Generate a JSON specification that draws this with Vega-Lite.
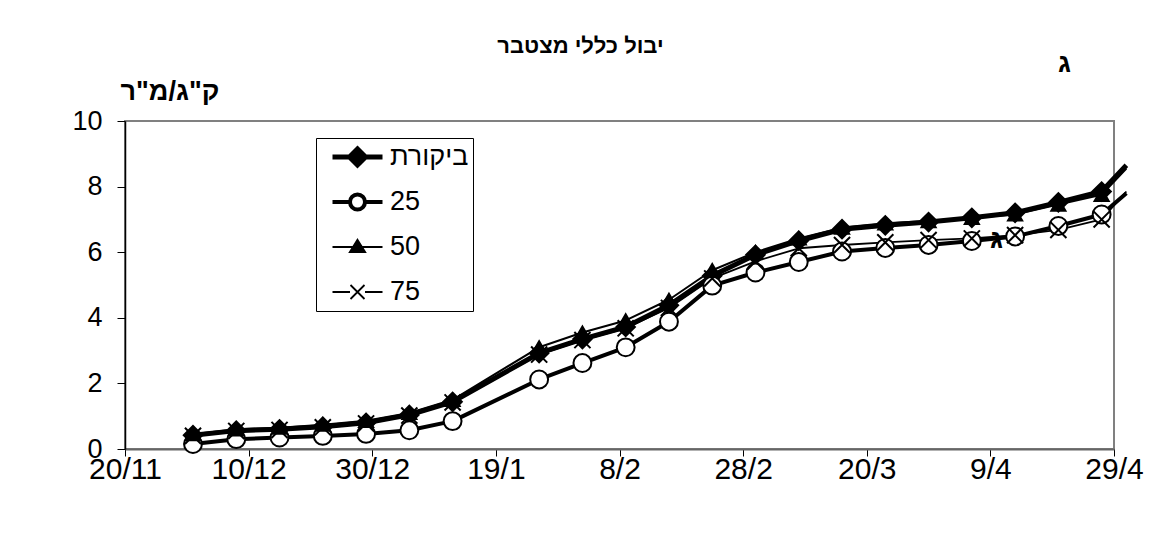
{
  "$schema": "https://vega.github.io/schema/vega-lite/v6.json",
  "width": 989,
  "height": 328,
  "autosize": {"type": "none"},
  "padding": {"left": 125, "top": 121, "right": 47, "bottom": 91},
  "background": "white",
  "title": {"text": "יבול כללי מצטבר", "font": "Liberation Sans", "fontSize": 22, "fontWeight": "bold", "color": "#000", "anchor": "middle", "dx": -39, "dy": 12},
  "config": {
    "font": "Liberation Sans",
    "view": {"stroke": "#808080", "strokeWidth": 2},
    "axis": {"grid": false, "labelFont": "Liberation Sans", "labelFontSize": 27, "labelColor": "#000", "tickColor": "#000", "labelFlush": false, "labelOverlap": false},
    "axisY": {"titleAngle": 0, "titleAlign": "left", "titleBaseline": "alphabetic", "titleX": -5, "titleY": -22, "titleFont": "Liberation Sans", "titleFontSize": 27, "titleFontWeight": "bold", "titleColor": "#000", "tickSize": 8, "labelPadding": 15, "domainColor": "#000", "domainWidth": 1.5},
    "axisX": {"tickSize": 7, "labelPadding": -2, "labelFontSize": 30, "domainColor": "#666", "domainWidth": 2}
  },
  "datasets": {
    "yield": [
      {"date": "2004-12-01T00:00", "series": "ביקורת", "value": 0.42}, {"date": "2004-12-01T00:00", "series": "25", "value": 0.15}, {"date": "2004-12-01T00:00", "series": "50", "value": 0.45}, {"date": "2004-12-01T00:00", "series": "75", "value": 0.40},
      {"date": "2004-12-08T00:00", "series": "ביקורת", "value": 0.56}, {"date": "2004-12-08T00:00", "series": "25", "value": 0.30}, {"date": "2004-12-08T00:00", "series": "50", "value": 0.60}, {"date": "2004-12-08T00:00", "series": "75", "value": 0.55},
      {"date": "2004-12-15T00:00", "series": "ביקורת", "value": 0.60}, {"date": "2004-12-15T00:00", "series": "25", "value": 0.35}, {"date": "2004-12-15T00:00", "series": "50", "value": 0.65}, {"date": "2004-12-15T00:00", "series": "75", "value": 0.58},
      {"date": "2004-12-22T00:00", "series": "ביקורת", "value": 0.68}, {"date": "2004-12-22T00:00", "series": "25", "value": 0.40}, {"date": "2004-12-22T00:00", "series": "50", "value": 0.74}, {"date": "2004-12-22T00:00", "series": "75", "value": 0.66},
      {"date": "2004-12-29T00:00", "series": "ביקורת", "value": 0.80}, {"date": "2004-12-29T00:00", "series": "25", "value": 0.46}, {"date": "2004-12-29T00:00", "series": "50", "value": 0.86}, {"date": "2004-12-29T00:00", "series": "75", "value": 0.78},
      {"date": "2005-01-05T00:00", "series": "ביקורת", "value": 1.04}, {"date": "2005-01-05T00:00", "series": "25", "value": 0.57}, {"date": "2005-01-05T00:00", "series": "50", "value": 1.10}, {"date": "2005-01-05T00:00", "series": "75", "value": 1.02},
      {"date": "2005-01-12T00:00", "series": "ביקורת", "value": 1.44}, {"date": "2005-01-12T00:00", "series": "25", "value": 0.85}, {"date": "2005-01-12T00:00", "series": "50", "value": 1.50}, {"date": "2005-01-12T00:00", "series": "75", "value": 1.42},
      {"date": "2005-01-26T00:00", "series": "ביקורת", "value": 2.92}, {"date": "2005-01-26T00:00", "series": "25", "value": 2.12}, {"date": "2005-01-26T00:00", "series": "50", "value": 3.10}, {"date": "2005-01-26T00:00", "series": "75", "value": 2.88},
      {"date": "2005-02-02T00:00", "series": "ביקורת", "value": 3.35}, {"date": "2005-02-02T00:00", "series": "25", "value": 2.62}, {"date": "2005-02-02T00:00", "series": "50", "value": 3.55}, {"date": "2005-02-02T00:00", "series": "75", "value": 3.32},
      {"date": "2005-02-09T00:00", "series": "ביקורת", "value": 3.72}, {"date": "2005-02-09T00:00", "series": "25", "value": 3.10}, {"date": "2005-02-09T00:00", "series": "50", "value": 3.92}, {"date": "2005-02-09T00:00", "series": "75", "value": 3.68},
      {"date": "2005-02-16T00:00", "series": "ביקורת", "value": 4.38}, {"date": "2005-02-16T00:00", "series": "25", "value": 3.88}, {"date": "2005-02-16T00:00", "series": "50", "value": 4.55}, {"date": "2005-02-16T00:00", "series": "75", "value": 4.30},
      {"date": "2005-02-23T00:00", "series": "ביקורת", "value": 5.28}, {"date": "2005-02-23T00:00", "series": "25", "value": 4.98}, {"date": "2005-02-23T00:00", "series": "50", "value": 5.45}, {"date": "2005-02-23T00:00", "series": "75", "value": 5.20},
      {"date": "2005-03-02T00:00", "series": "ביקורת", "value": 5.92}, {"date": "2005-03-02T00:00", "series": "25", "value": 5.38}, {"date": "2005-03-02T00:00", "series": "50", "value": 6.00}, {"date": "2005-03-02T00:00", "series": "75", "value": 5.72},
      {"date": "2005-03-09T00:00", "series": "ביקורת", "value": 6.35}, {"date": "2005-03-09T00:00", "series": "25", "value": 5.70}, {"date": "2005-03-09T00:00", "series": "50", "value": 6.42}, {"date": "2005-03-09T00:00", "series": "75", "value": 6.12},
      {"date": "2005-03-16T00:00", "series": "ביקורת", "value": 6.70}, {"date": "2005-03-16T00:00", "series": "25", "value": 6.02}, {"date": "2005-03-16T00:00", "series": "50", "value": 6.75}, {"date": "2005-03-16T00:00", "series": "75", "value": 6.22},
      {"date": "2005-03-23T00:00", "series": "ביקורת", "value": 6.82}, {"date": "2005-03-23T00:00", "series": "25", "value": 6.13}, {"date": "2005-03-23T00:00", "series": "50", "value": 6.88}, {"date": "2005-03-23T00:00", "series": "75", "value": 6.30},
      {"date": "2005-03-30T00:00", "series": "ביקורת", "value": 6.92}, {"date": "2005-03-30T00:00", "series": "25", "value": 6.22}, {"date": "2005-03-30T00:00", "series": "50", "value": 6.95}, {"date": "2005-03-30T00:00", "series": "75", "value": 6.37},
      {"date": "2005-04-06T00:00", "series": "ביקורת", "value": 7.05}, {"date": "2005-04-06T00:00", "series": "25", "value": 6.34}, {"date": "2005-04-06T00:00", "series": "50", "value": 7.05}, {"date": "2005-04-06T00:00", "series": "75", "value": 6.42},
      {"date": "2005-04-13T00:00", "series": "ביקורת", "value": 7.20}, {"date": "2005-04-13T00:00", "series": "25", "value": 6.48}, {"date": "2005-04-13T00:00", "series": "50", "value": 7.15}, {"date": "2005-04-13T00:00", "series": "75", "value": 6.52},
      {"date": "2005-04-20T00:00", "series": "ביקורת", "value": 7.52}, {"date": "2005-04-20T00:00", "series": "25", "value": 6.80}, {"date": "2005-04-20T00:00", "series": "50", "value": 7.45}, {"date": "2005-04-20T00:00", "series": "75", "value": 6.68},
      {"date": "2005-04-27T00:00", "series": "ביקורת", "value": 7.85}, {"date": "2005-04-27T00:00", "series": "25", "value": 7.15}, {"date": "2005-04-27T00:00", "series": "50", "value": 7.75}, {"date": "2005-04-27T00:00", "series": "75", "value": 7.00},
      {"date": "2005-05-01T00:00", "series": "ביקורת", "value": 8.65}, {"date": "2005-05-01T00:00", "series": "25", "value": 7.80}, {"date": "2005-05-01T00:00", "series": "50", "value": 8.55}, {"date": "2005-05-01T00:00", "series": "75", "value": 7.85}
    ]
  },
  "data": {"name": "yield"},
  "encoding": {
    "x": {
      "field": "date", "type": "temporal", "title": null,
      "scale": {"domain": [{"year": 2004, "month": 11, "date": 20}, {"year": 2005, "month": 4, "date": 29}], "nice": false},
      "axis": {"format": "%-d/%-m", "values": [
        {"year": 2004, "month": 11, "date": 20}, {"year": 2004, "month": 12, "date": 10}, {"year": 2004, "month": 12, "date": 30},
        {"year": 2005, "month": 1, "date": 19}, {"year": 2005, "month": 2, "date": 8}, {"year": 2005, "month": 2, "date": 28},
        {"year": 2005, "month": 3, "date": 20}, {"year": 2005, "month": 4, "date": 9}, {"year": 2005, "month": 4, "date": 29}]}
    },
    "y": {
      "field": "value", "type": "quantitative", "title": "ק\"ג/מ\"ר",
      "scale": {"domain": [0, 10], "nice": false},
      "axis": {"values": [0, 2, 4, 6, 8, 10]}
    }
  },
  "layer": [
    {
      "data": {"values": [
        {"date": "2005-04-21T00:00", "value": 11.5, "label": "ג"},
        {"date": "2005-04-10T00:00", "value": 6.13, "label": "ג"}
      ]},
      "mark": {"type": "text", "font": "Liberation Sans", "fontSize": 27, "fontWeight": "bold", "align": "center", "baseline": "alphabetic", "color": "#000"},
      "encoding": {"text": {"field": "label"}}
    },
    {
      "mark": {"type": "line", "color": "#000", "strokeJoin": "round"},
      "encoding": {
        "detail": {"field": "series"},
        "strokeWidth": {"field": "series", "type": "nominal", "scale": {"type": "ordinal", "domain": ["ביקורת", "25", "50", "75"], "range": [5, 4, 2, 1.8]}, "legend": null}
      }
    },
    {
      "transform": [{"filter": {"field": "date", "lte": {"year": 2005, "month": 4, "date": 28}}}],
      "mark": {"type": "point", "stroke": "#000", "strokeWidth": 2, "opacity": 1},
      "encoding": {
        "shape": {"field": "series", "type": "nominal", "scale": {"domain": ["ביקורת", "25", "50", "75"], "range": ["diamond", "circle", "triangle-up", "M-1,-1L1,1M-1,1L1,-1"]}, "legend": null},
        "fill": {"field": "series", "type": "nominal", "scale": {"domain": ["ביקורת", "25", "50", "75"], "range": ["#000", "#fff", "#000", "transparent"]}, "legend": null},
        "size": {"field": "series", "type": "nominal", "scale": {"type": "ordinal", "domain": ["ביקורת", "25", "50", "75"], "range": [340, 320, 200, 260]}, "legend": null}
      }
    },
    {
      "transform": [{"filter": {"field": "date", "lte": {"year": 2005, "month": 4, "date": 28}}}],
      "mark": {"type": "point", "opacity": 0},
      "encoding": {
        "shape": {"field": "series", "type": "nominal",
          "scale": {"domain": ["ביקורת", "25", "50", "75"], "range": [
            "M-1,0H1M0,-0.32L0.32,0L0,0.32L-0.32,0Z",
            "M-1,0H-0.3M0.3,0H1M0.3,0A0.3,0.3,0,1,1,-0.3,0A0.3,0.3,0,1,1,0.3,0Z",
            "M-1,0H1M0,-0.28L0.3,0.2L-0.3,0.2Z",
            "M-1,0H-0.3M0.3,0H1M-0.28,-0.28L0.28,0.28M-0.28,0.28L0.28,-0.28"]},
          "legend": {"orient": "none", "legendX": 191, "legendY": 17, "title": null, "symbolSize": 2500, "symbolOpacity": 1, "symbolOffset": 10, "labelFont": "Liberation Sans", "labelFontSize": 27, "labelColor": "#000", "strokeColor": "#000", "fillColor": "#fff", "padding": 4, "clipHeight": 30, "rowPadding": 15, "labelOffset": 5}},
        "fill": {"field": "series", "type": "nominal",
          "scale": {"domain": ["ביקורת", "25", "50", "75"], "range": ["#000", "#fff", "#000", "transparent"]},
          "legend": {"orient": "none", "legendX": 191, "legendY": 17, "title": null, "symbolSize": 2500, "symbolOpacity": 1, "symbolOffset": 10, "labelFont": "Liberation Sans", "labelFontSize": 27, "labelColor": "#000", "strokeColor": "#000", "fillColor": "#fff", "padding": 4, "clipHeight": 30, "rowPadding": 15, "labelOffset": 5}},
        "stroke": {"field": "series", "type": "nominal",
          "scale": {"domain": ["ביקורת", "25", "50", "75"], "range": ["#000", "#000", "#000", "#000"]},
          "legend": {"orient": "none", "legendX": 191, "legendY": 17, "title": null, "symbolSize": 2500, "symbolOpacity": 1, "symbolOffset": 10, "labelFont": "Liberation Sans", "labelFontSize": 27, "labelColor": "#000", "strokeColor": "#000", "fillColor": "#fff", "padding": 4, "clipHeight": 30, "rowPadding": 15, "labelOffset": 5}},
        "strokeWidth": {"field": "series", "type": "nominal",
          "scale": {"type": "ordinal", "domain": ["ביקורת", "25", "50", "75"], "range": [5, 4, 2, 1.8]},
          "legend": {"orient": "none", "legendX": 191, "legendY": 17, "title": null, "symbolSize": 2500, "symbolOpacity": 1, "symbolOffset": 10, "labelFont": "Liberation Sans", "labelFontSize": 27, "labelColor": "#000", "strokeColor": "#000", "fillColor": "#fff", "padding": 4, "clipHeight": 30, "rowPadding": 15, "labelOffset": 5}}
      }
    }
  ],
  "resolve": {"scale": {"shape": "independent", "fill": "independent", "stroke": "independent", "strokeWidth": "independent", "size": "independent"}}
}
